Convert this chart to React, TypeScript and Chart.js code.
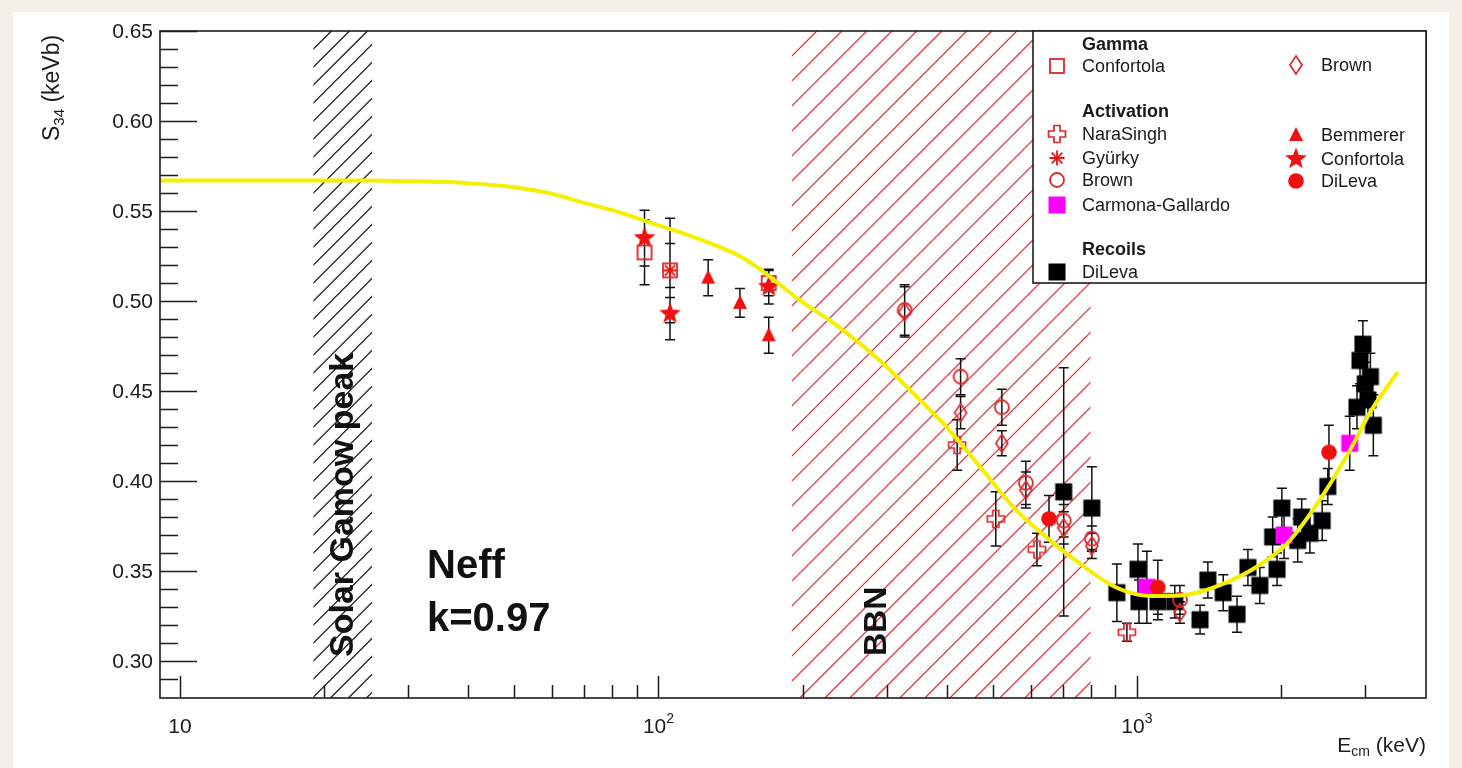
import React, { useEffect, useRef } from 'react';
import { Chart, registerables } from 'chart.js';

Chart.register(...registerables);

const FONT = "'Liberation Sans', Arial, Helvetica, sans-serif";

// ---------- axis ranges & ticks ----------
const X_MIN = 9.08;
const X_MAX = 4020;
const Y_MIN = 0.2795;
const Y_MAX = 0.65;

const yMajorTicks = [0.3, 0.35, 0.4, 0.45, 0.5, 0.55, 0.6, 0.65];
const yMinorTicks = [0.28, 0.29, 0.31, 0.32, 0.33, 0.34, 0.36, 0.37, 0.38, 0.39, 0.41, 0.42, 0.43, 0.44, 0.46, 0.47, 0.48, 0.49, 0.51, 0.52, 0.53, 0.54, 0.56, 0.57, 0.58, 0.59, 0.61, 0.62, 0.63, 0.64];
const xMajorTicks = [10, 100, 1000];
const xMajorBase = ['10', '10', '10'];
const xMajorExp = ['', '2', '3'];
const xMinorTicks = [20, 30, 40, 50, 60, 70, 80, 90, 200, 300, 400, 500, 600, 700, 800, 900, 2000, 3000, 4000];

// ---------- shaded regions ----------
const gamowRegion = [19.0, 25.2];
const bbnRegion = [190, 800];

// ---------- fit curve ----------
const fitE = [9.08, 20, 25, 30, 40, 50, 60, 70, 80, 95, 110, 130, 150, 170, 195, 240, 290, 340, 400, 470, 550, 645, 757, 888, 1010, 1110, 1280, 1500, 1770, 2070, 2390, 2760, 3085, 3510];
const fitS = [0.567, 0.567, 0.5669, 0.5666, 0.5655, 0.5632, 0.5595, 0.5545, 0.5505, 0.544, 0.5385, 0.5315, 0.524, 0.514, 0.5015, 0.485, 0.467, 0.449, 0.43, 0.408, 0.386, 0.369, 0.3545, 0.342, 0.3368, 0.3361, 0.337, 0.3425, 0.352, 0.366, 0.388, 0.415, 0.439, 0.4606];

// ---------- data ----------
// Gamma
const gConfortolaE = [93.5, 105.7, 170];
const gConfortolaS = [0.527, 0.517, 0.51];
const gConfortolaErr = [0.018, 0.015, 0.007];

const gBrownE = [327, 428, 522, 586, 703, 805, 1230];
const gBrownS = [0.494, 0.438, 0.421, 0.395, 0.374, 0.364, 0.327];
const gBrownErr = [0.014, 0.009, 0.007, 0.01, 0.009, 0.007, 0.006];

// Activation
const naraSinghE = [421, 507, 618, 953];
const naraSinghS = [0.42, 0.379, 0.362, 0.316];
const naraSinghErr = [0.014, 0.015, 0.009, 0.005];

const gyurkyE = [105.7];
const gyurkyS = [0.517];
const gyurkyErr = [0.029];

const aBrownE = [327, 428, 522, 586, 703, 805, 1230];
const aBrownS = [0.495, 0.458, 0.441, 0.399, 0.378, 0.368, 0.334];
const aBrownErr = [0.014, 0.01, 0.01, 0.012, 0.009, 0.007, 0.008];

const carmonaE = [1049, 2030, 2785];
const carmonaS = [0.341, 0.37, 0.421];
const carmonaErr = [0.02, 0.013, 0.015];

const bemmererE = [127, 148, 170];
const bemmererS = [0.513, 0.499, 0.481];
const bemmererErr = [0.01, 0.008, 0.01];

const aConfortolaE = [93.5, 105.7, 170];
const aConfortolaS = [0.535, 0.493, 0.508];
const aConfortolaErr = [0.0155, 0.0145, 0.0097];

const aDiLevaE = [655, 1106, 2520];
const aDiLevaS = [0.379, 0.341, 0.416];
const aDiLevaErr = [0.013, 0.015, 0.015];

// Recoils
const recoilE = [703, 805, 908, 1005, 1010, 1106, 1200, 1355, 1407, 1515, 1619, 1706, 1807, 1922, 1963, 2009, 2168, 2210, 2299, 2439, 2506, 2884, 2926, 2967, 3000, 3040, 3076, 3120];
const recoilS = [0.394, 0.385, 0.338, 0.351, 0.333, 0.333, 0.333, 0.323, 0.345, 0.338, 0.326, 0.352, 0.342, 0.369, 0.351, 0.385, 0.367, 0.38, 0.371, 0.378, 0.397, 0.441, 0.467, 0.476, 0.454, 0.445, 0.458, 0.431];
const recoilErr = [0.069, 0.023, 0.016, 0.014, 0.012, 0.01, 0.009, 0.008, 0.01, 0.01, 0.01, 0.01, 0.01, 0.011, 0.009, 0.011, 0.012, 0.01, 0.011, 0.011, 0.01, 0.012, 0.013, 0.013, 0.012, 0.013, 0.013, 0.017];

// ---------- colours ----------
const RED = '#f01010';
const RED_OPEN = '#d92a2e';
const MAGENTA = '#ff00ff';
const BLACK = '#000000';
const YELLOW = '#f4f000';

type MarkerKind = 'openSquare' | 'square' | 'openCircle' | 'circle' | 'triangle' | 'star' | 'asterisk' | 'openCross' | 'openDiamond';

function makeMarker(kind: MarkerKind, color: string): HTMLCanvasElement {
  const size = 30;
  const c = document.createElement('canvas');
  c.width = size;
  c.height = size;
  const g = c.getContext('2d') as CanvasRenderingContext2D;
  g.translate(size / 2, size / 2);
  g.strokeStyle = color;
  g.fillStyle = color;
  g.lineWidth = 1.8;
  g.lineJoin = 'miter';
  switch (kind) {
    case 'openSquare':
      g.strokeRect(-7, -7, 14, 14);
      break;
    case 'square':
      g.fillRect(-8.5, -8.5, 17, 17);
      break;
    case 'openCircle':
      g.beginPath();
      g.arc(0, 0, 7, 0, Math.PI * 2);
      g.stroke();
      break;
    case 'circle':
      g.beginPath();
      g.arc(0, 0, 7.8, 0, Math.PI * 2);
      g.fill();
      break;
    case 'triangle':
      g.beginPath();
      g.moveTo(0, -8);
      g.lineTo(7, 6);
      g.lineTo(-7, 6);
      g.closePath();
      g.fill();
      break;
    case 'star': {
      g.beginPath();
      for (let i = 0; i < 10; i++) {
        const r = i % 2 === 0 ? 11.5 : 4.8;
        const a = -Math.PI / 2 + (i * Math.PI) / 5;
        const px = r * Math.cos(a);
        const py = r * Math.sin(a);
        if (i === 0) g.moveTo(px, py);
        else g.lineTo(px, py);
      }
      g.closePath();
      g.fill();
      break;
    }
    case 'asterisk': {
      g.beginPath();
      for (let i = 0; i < 4; i++) {
        const a = (i * Math.PI) / 4;
        g.moveTo(-7.5 * Math.cos(a), -7.5 * Math.sin(a));
        g.lineTo(7.5 * Math.cos(a), 7.5 * Math.sin(a));
      }
      g.stroke();
      break;
    }
    case 'openCross': {
      const L = 8.5;
      const a = 3;
      g.lineWidth = 1.7;
      g.beginPath();
      g.moveTo(-a, -L);
      g.lineTo(a, -L);
      g.lineTo(a, -a);
      g.lineTo(L, -a);
      g.lineTo(L, a);
      g.lineTo(a, a);
      g.lineTo(a, L);
      g.lineTo(-a, L);
      g.lineTo(-a, a);
      g.lineTo(-L, a);
      g.lineTo(-L, -a);
      g.lineTo(-a, -a);
      g.closePath();
      g.stroke();
      break;
    }
    case 'openDiamond':
      g.lineWidth = 1.7;
      g.beginPath();
      g.moveTo(0, -9);
      g.lineTo(6, 0);
      g.lineTo(0, 9);
      g.lineTo(-6, 0);
      g.closePath();
      g.stroke();
      break;
  }
  return c;
}

function pts(E: number[], S: number[]) {
  return E.map((e, i) => ({ x: e, y: S[i] }));
}

function hatch(ctx: CanvasRenderingContext2D, x1: number, x2: number, top: number, bottom: number, spacing: number, color: string, lw: number) {
  ctx.save();
  ctx.beginPath();
  ctx.rect(x1, top, x2 - x1, bottom - top);
  ctx.clip();
  ctx.strokeStyle = color;
  ctx.lineWidth = lw;
  ctx.beginPath();
  const h = bottom - top;
  for (let s = x1 - h - spacing; s < x2 + spacing; s += spacing) {
    ctx.moveTo(s, bottom);
    ctx.lineTo(s + h, top);
  }
  ctx.stroke();
  ctx.restore();
}

export default function App() {
  const ref = useRef<HTMLCanvasElement>(null);

  useEffect(() => {
    const canvas = ref.current as HTMLCanvasElement;
    const mk = {
      gConf: makeMarker('openSquare', RED_OPEN),
      gBrown: makeMarker('openDiamond', RED_OPEN),
      nara: makeMarker('openCross', RED_OPEN),
      gyurky: makeMarker('asterisk', RED),
      aBrown: makeMarker('openCircle', RED_OPEN),
      carmona: makeMarker('square', MAGENTA),
      bemmerer: makeMarker('triangle', RED),
      aConf: makeMarker('star', RED),
      aDiLeva: makeMarker('circle', RED),
      recoil: makeMarker('square', BLACK),
    };

    const markerSet = (label: string, E: number[], S: number[], err: number[], style: HTMLCanvasElement) => ({
      label,
      data: pts(E, S),
      errors: err,
      showLine: false,
      pointStyle: style,
      pointRadius: 7,
      pointHoverRadius: 7,
    });

    const datasets: any[] = [
      {
        label: 'fit',
        data: pts(fitE, fitS),
        showLine: true,
        pointRadius: 0,
        borderColor: YELLOW,
        borderWidth: 4,
        cubicInterpolationMode: 'monotone',
        fill: false,
      },
      markerSet('Gamma Confortola', gConfortolaE, gConfortolaS, gConfortolaErr, mk.gConf),
      markerSet('Gamma Brown', gBrownE, gBrownS, gBrownErr, mk.gBrown),
      markerSet('NaraSingh', naraSinghE, naraSinghS, naraSinghErr, mk.nara),
      markerSet('Gyürky', gyurkyE, gyurkyS, gyurkyErr, mk.gyurky),
      markerSet('Activation Brown', aBrownE, aBrownS, aBrownErr, mk.aBrown),
      markerSet('Activation DiLeva', aDiLevaE, aDiLevaS, aDiLevaErr, mk.aDiLeva),
      markerSet('Activation Confortola', aConfortolaE, aConfortolaS, aConfortolaErr, mk.aConf),
      markerSet('Bemmerer', bemmererE, bemmererS, bemmererErr, mk.bemmerer),
      markerSet('Carmona-Gallardo', carmonaE, carmonaS, carmonaErr, mk.carmona),
      markerSet('Recoils DiLeva', recoilE, recoilS, recoilErr, mk.recoil),
    ];

    const legendItems = [
      { text: 'Gamma', header: true, x: 1082, y: 44 },
      { text: 'Confortola', marker: mk.gConf, x: 1082, y: 66 },
      { text: 'Brown', marker: mk.gBrown, x: 1321, y: 65 },
      { text: 'Activation', header: true, x: 1082, y: 111 },
      { text: 'NaraSingh', marker: mk.nara, x: 1082, y: 134 },
      { text: 'Bemmerer', marker: mk.bemmerer, x: 1321, y: 135 },
      { text: 'Gyürky', marker: mk.gyurky, x: 1082, y: 158 },
      { text: 'Confortola', marker: mk.aConf, x: 1321, y: 159 },
      { text: 'Brown', marker: mk.aBrown, x: 1082, y: 180 },
      { text: 'DiLeva', marker: mk.aDiLeva, x: 1321, y: 181 },
      { text: 'Carmona-Gallardo', marker: mk.carmona, x: 1082, y: 205 },
      { text: 'Recoils', header: true, x: 1082, y: 249 },
      { text: 'DiLeva', marker: mk.recoil, x: 1082, y: 272 },
    ];

    const decor = {
      id: 'decor',
      beforeDraw(chart: any) {
        const ctx = chart.ctx as CanvasRenderingContext2D;
        ctx.save();
        ctx.fillStyle = '#ffffff';
        ctx.fillRect(13, 12, 1436, 756);
        ctx.restore();
      },
      beforeDatasetsDraw(chart: any) {
        const ctx = chart.ctx as CanvasRenderingContext2D;
        const { top, bottom } = chart.chartArea;
        const xs = chart.scales.x;
        const ys = chart.scales.y;
        hatch(ctx, xs.getPixelForValue(gamowRegion[0]), xs.getPixelForValue(gamowRegion[1]), top, bottom, 18, '#1a1a1a', 1.3);
        hatch(ctx, xs.getPixelForValue(bbnRegion[0]), xs.getPixelForValue(bbnRegion[1]), top, bottom, 25, '#dd3a44', 1.3);

        // error bars
        ctx.save();
        ctx.beginPath();
        ctx.rect(chart.chartArea.left, top, chart.chartArea.right - chart.chartArea.left, bottom - top);
        ctx.clip();
        ctx.strokeStyle = '#111111';
        ctx.lineWidth = 1.5;
        ctx.beginPath();
        chart.data.datasets.forEach((ds: any) => {
          if (!ds.errors) return;
          ds.data.forEach((p: any, i: number) => {
            const e = ds.errors[i];
            const px = xs.getPixelForValue(p.x);
            const y1 = ys.getPixelForValue(p.y - e);
            const y2 = ys.getPixelForValue(p.y + e);
            ctx.moveTo(px, y1);
            ctx.lineTo(px, y2);
            ctx.moveTo(px - 5, y1);
            ctx.lineTo(px + 5, y1);
            ctx.moveTo(px - 5, y2);
            ctx.lineTo(px + 5, y2);
          });
        });
        ctx.stroke();
        ctx.restore();
      },
      afterDatasetsDraw(chart: any) {
        const ctx = chart.ctx as CanvasRenderingContext2D;
        const { left, right, top, bottom } = chart.chartArea;
        const xs = chart.scales.x;
        const ys = chart.scales.y;
        const ink = '#1c1c1c';

        // annotations
        ctx.save();
        ctx.fillStyle = '#111';
        ctx.font = `bold 40px ${FONT}`;
        ctx.textAlign = 'left';
        ctx.textBaseline = 'alphabetic';
        ctx.fillText('Neff', 427, 578);
        ctx.fillText('k=0.97', 427, 631);

        ctx.save();
        ctx.translate(353, 657);
        ctx.rotate(-Math.PI / 2);
        ctx.font = `bold 34px ${FONT}`;
        ctx.fillText('Solar Gamow peak', 0, 0);
        ctx.restore();

        ctx.save();
        ctx.translate(886, 656);
        ctx.rotate(-Math.PI / 2);
        ctx.font = `bold 32px ${FONT}`;
        ctx.fillText('BBN', 0, 0);
        ctx.restore();
        ctx.restore();

        // frame
        ctx.save();
        ctx.strokeStyle = ink;
        ctx.lineWidth = 1.6;
        ctx.strokeRect(left, top, right - left, bottom - top);

        // ticks
        ctx.lineWidth = 1.5;
        ctx.beginPath();
        yMajorTicks.forEach((v) => {
          const py = Math.round(ys.getPixelForValue(v)) + 0.5;
          ctx.moveTo(left, py);
          ctx.lineTo(left + 37, py);
        });
        yMinorTicks.forEach((v) => {
          const py = Math.round(ys.getPixelForValue(v)) + 0.5;
          if (py > bottom - 1) return;
          ctx.moveTo(left, py);
          ctx.lineTo(left + 18, py);
        });
        xMajorTicks.forEach((v) => {
          const px = Math.round(xs.getPixelForValue(v)) + 0.5;
          ctx.moveTo(px, bottom);
          ctx.lineTo(px, bottom - 22);
        });
        xMinorTicks.forEach((v) => {
          if (v >= X_MAX) return;
          const px = Math.round(xs.getPixelForValue(v)) + 0.5;
          if (px > right - 2) return;
          ctx.moveTo(px, bottom);
          ctx.lineTo(px, bottom - 13);
        });
        ctx.stroke();

        // y tick labels
        ctx.fillStyle = ink;
        ctx.font = `21px ${FONT}`;
        ctx.textAlign = 'right';
        ctx.textBaseline = 'middle';
        yMajorTicks.forEach((v) => {
          ctx.fillText(v.toFixed(2), 153, ys.getPixelForValue(v) + 1);
        });

        // x tick labels
        ctx.textBaseline = 'alphabetic';
        ctx.textAlign = 'left';
        xMajorTicks.forEach((v, i) => {
          const px = xs.getPixelForValue(v);
          ctx.font = `21px ${FONT}`;
          const wb = ctx.measureText(xMajorBase[i]).width;
          ctx.font = `14px ${FONT}`;
          const we = xMajorExp[i] ? ctx.measureText(xMajorExp[i]).width : 0;
          const x0 = px - (wb + we) / 2;
          ctx.font = `21px ${FONT}`;
          ctx.fillText(xMajorBase[i], x0, 733);
          if (xMajorExp[i]) {
            ctx.font = `14px ${FONT}`;
            ctx.fillText(xMajorExp[i], x0 + wb, 723);
          }
        });

        // x title: E_cm (keV)
        ctx.font = `21px ${FONT}`;
        const wE = ctx.measureText('E').width;
        const wK = ctx.measureText(' (keV)').width;
        ctx.font = `14px ${FONT}`;
        const wC = ctx.measureText('cm').width;
        let tx = right - (wE + wC + wK);
        ctx.font = `21px ${FONT}`;
        ctx.fillText('E', tx, 752);
        tx += wE;
        ctx.font = `14px ${FONT}`;
        ctx.fillText('cm', tx, 756);
        tx += wC;
        ctx.font = `21px ${FONT}`;
        ctx.fillText(' (keV)', tx, 752);

        // y title: S_34 (keVb)
        ctx.save();
        ctx.translate(59, 141);
        ctx.rotate(-Math.PI / 2);
        ctx.textAlign = 'left';
        ctx.font = `23px ${FONT}`;
        ctx.fillText('S', 0, 0);
        let ty = ctx.measureText('S').width;
        ctx.font = `15px ${FONT}`;
        ctx.fillText('34', ty, 5);
        ty += ctx.measureText('34').width;
        ctx.font = `23px ${FONT}`;
        ctx.fillText(' (keVb)', ty, 0);
        ctx.restore();

        // legend
        const lx = 1033;
        const ly = top;
        ctx.fillStyle = '#ffffff';
        ctx.fillRect(lx, ly, right - lx, 283 - ly);
        ctx.strokeStyle = ink;
        ctx.lineWidth = 1.6;
        ctx.strokeRect(lx, ly, right - lx, 283 - ly);
        ctx.textAlign = 'left';
        ctx.textBaseline = 'middle';
        legendItems.forEach((it: any) => {
          ctx.fillStyle = '#1a1a1a';
          ctx.font = `${it.header ? 'bold ' : ''}18px ${FONT}`;
          ctx.fillText(it.text, it.x, it.y + 1);
          if (it.marker) {
            const m = it.marker as HTMLCanvasElement;
            ctx.drawImage(m, it.x - 25 - m.width / 2, it.y - m.height / 2);
          }
        });
        ctx.restore();
      },
    };

    const chart = new Chart(canvas, {
      type: 'scatter',
      data: { datasets },
      options: {
        animation: false,
        responsive: false,
        maintainAspectRatio: false,
        devicePixelRatio: 1,
        events: [],
        layout: { padding: { left: 160, top: 31, right: 36, bottom: 70 } },
        plugins: { legend: { display: false }, tooltip: { enabled: false } },
        scales: {
          x: { type: 'logarithmic', min: X_MIN, max: X_MAX, display: false },
          y: { type: 'linear', min: Y_MIN, max: Y_MAX, display: false },
        },
      },
      plugins: [decor],
    } as any);

    return () => chart.destroy();
  }, []);

  return (
    <div style={{ position: 'absolute', left: 0, top: 0, width: 1462, height: 768, background: '#f3f0e9', overflow: 'hidden' }}>
      <canvas ref={ref} width={1462} height={768} style={{ width: 1462, height: 768, display: 'block' }} />
    </div>
  );
}
